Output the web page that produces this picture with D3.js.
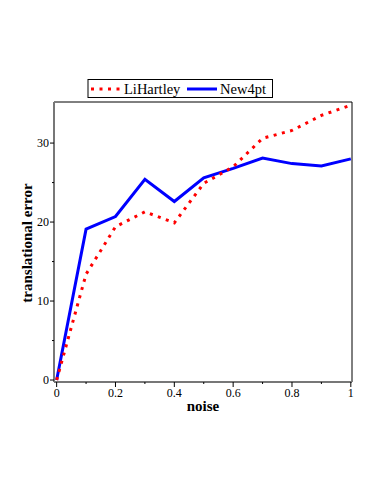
<!DOCTYPE html>
<html>
<head>
<meta charset="utf-8">
<script src="https://cdn.jsdelivr.net/npm/d3@7"></script>
<style>
  body { margin: 0; background: #fff; }
  svg text { font-family: "Liberation Serif", "DejaVu Serif", serif; }
</style>
</head>
<body>
<svg id="chart" width="382" height="494"></svg>
<script>
const noise = [0, 0.1, 0.2, 0.3, 0.4, 0.5, 0.6, 0.7, 0.8, 0.9, 1.0];
const liHartley = [0, 13.4, 19.4, 21.3, 19.9, 24.9, 27.0, 30.6, 31.6, 33.5, 34.8];
const new4pt = [0, 19.1, 20.7, 25.4, 22.6, 25.6, 26.8, 28.1, 27.4, 27.1, 28.0];
const xTicks = [0, 0.2, 0.4, 0.6, 0.8, 1];
const xMinor = [0.1, 0.3, 0.5, 0.7, 0.9];
const yTicks = [0, 10, 20, 30];
const yMinor = [5, 15, 25];

const svg = d3.select("#chart");
const plotL = 54, plotR = 352, plotT = 102, plotB = 382;

const x = d3.scaleLinear().domain([-0.009, 1.004]).range([plotL, plotR]);
const y = d3.scaleLinear().domain([-0.25, 35.2]).range([plotB, plotT]);

// frame: top + right thin black
svg.append("path")
    .attr("d", `M${plotL},${plotT}H${plotR}V${plotB}`)
    .attr("fill", "none")
    .attr("stroke", "#000")
    .attr("stroke-width", 1);

// x axis
const xAxis = svg.append("g").attr("transform", `translate(0,${plotB})`);
xAxis.append("line")
    .attr("x1", plotL).attr("x2", plotR)
    .attr("stroke", "#777").attr("stroke-width", 2);
xAxis.selectAll("line.major").data(xTicks).enter().append("line")
    .attr("class", "major")
    .attr("x1", d => x(d)).attr("x2", d => x(d))
    .attr("y1", 0).attr("y2", 5)
    .attr("stroke", "#000");
xAxis.selectAll("line.minor").data(xMinor).enter().append("line")
    .attr("class", "minor")
    .attr("x1", d => x(d)).attr("x2", d => x(d))
    .attr("y1", 0).attr("y2", 2)
    .attr("stroke", "#000");
xAxis.selectAll("text").data(xTicks).enter().append("text")
    .attr("x", d => x(d)).attr("y", 15)
    .attr("text-anchor", "middle")
    .attr("font-size", 12)
    .text(d => d);

// y axis
const yAxis = svg.append("g").attr("transform", `translate(${plotL},0)`);
yAxis.append("line")
    .attr("y1", plotT).attr("y2", plotB)
    .attr("stroke", "#777").attr("stroke-width", 2);
yAxis.selectAll("line.major").data(yTicks).enter().append("line")
    .attr("class", "major")
    .attr("y1", d => y(d)).attr("y2", d => y(d))
    .attr("x1", 0).attr("x2", -4)
    .attr("stroke", "#000");
yAxis.selectAll("line.minor").data(yMinor).enter().append("line")
    .attr("class", "minor")
    .attr("y1", d => y(d)).attr("y2", d => y(d))
    .attr("x1", 0).attr("x2", -2)
    .attr("stroke", "#000");
yAxis.selectAll("text").data(yTicks).enter().append("text")
    .attr("x", -5).attr("y", d => y(d) + 4)
    .attr("text-anchor", "end")
    .attr("font-size", 12)
    .text(d => d);

// axis titles
svg.append("text")
    .attr("x", (plotL + plotR) / 2).attr("y", 411)
    .attr("text-anchor", "middle")
    .attr("font-size", 15).attr("font-weight", "bold")
    .text("noise");
svg.append("text")
    .attr("transform", `translate(32,${(plotT + plotB) / 2 + 1}) rotate(-90)`)
    .attr("text-anchor", "middle")
    .attr("font-size", 15).attr("font-weight", "bold")
    .text("translational error");

// lines
const line = d3.line().x((d, i) => x(noise[i])).y(d => y(d));

svg.append("path")
    .datum(new4pt)
    .attr("d", line)
    .attr("fill", "none")
    .attr("stroke", "#0000ff")
    .attr("stroke-width", 3);

svg.append("path")
    .datum(liHartley)
    .attr("d", line)
    .attr("fill", "none")
    .attr("stroke", "#ff0000")
    .attr("stroke-width", 3)
    .attr("stroke-dasharray", "3,5.5");

// legend
const lg = svg.append("g");
lg.append("rect")
    .attr("x", 88).attr("y", 79.5)
    .attr("width", 184.5).attr("height", 18)
    .attr("fill", "#fff").attr("stroke", "#000");
lg.append("line")
    .attr("x1", 91).attr("x2", 123).attr("y1", 89).attr("y2", 89)
    .attr("stroke", "#ff0000").attr("stroke-width", 3)
    .attr("stroke-dasharray", "3,5.5");
lg.append("text")
    .attr("x", 124).attr("y", 93.5)
    .attr("font-size", 14.5)
    .text("LiHartley");
lg.append("line")
    .attr("x1", 187).attr("x2", 217).attr("y1", 89).attr("y2", 89)
    .attr("stroke", "#0000ff").attr("stroke-width", 3);
lg.append("text")
    .attr("x", 220).attr("y", 93.5)
    .attr("font-size", 14.5)
    .text("New4pt");
</script>
</body>
</html>
